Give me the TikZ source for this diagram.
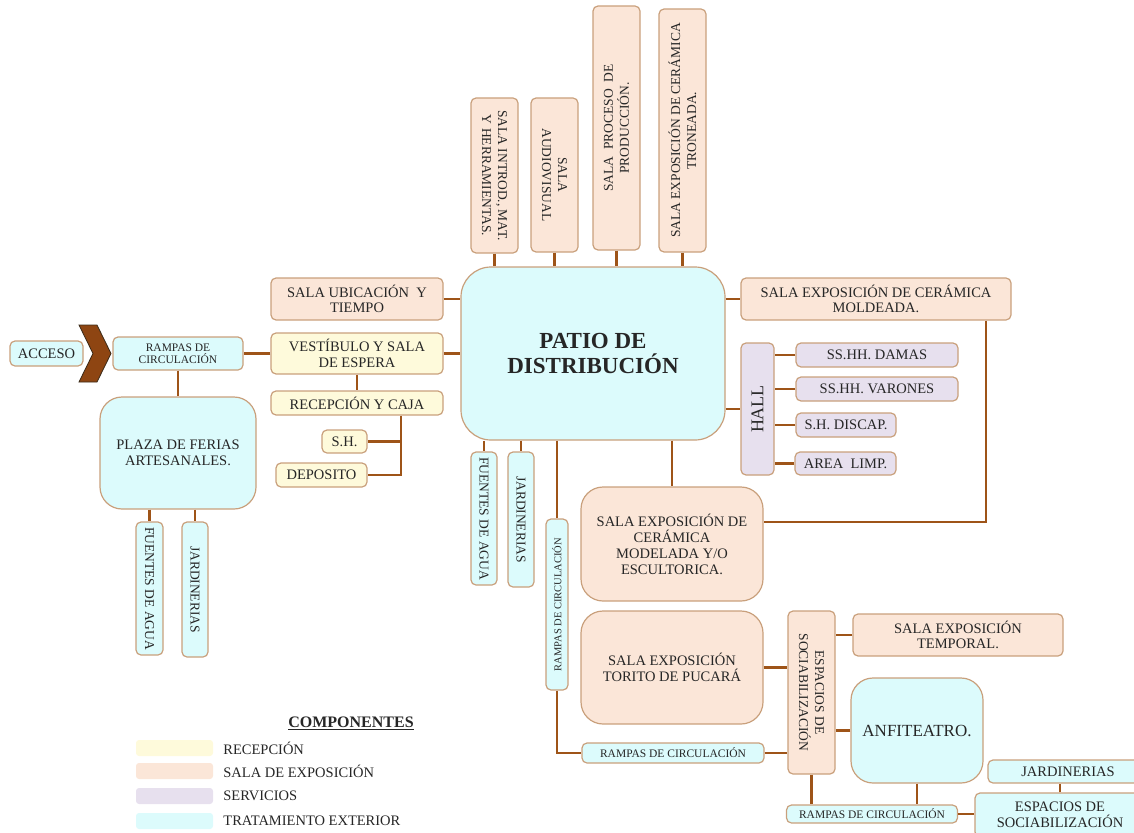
\documentclass[tikz,border=0pt]{standalone}
\usepackage{fontspec}
\setmainfont{Liberation Serif}
\usetikzlibrary{positioning}

\definecolor{recepfill}{HTML}{FEFADB}
\definecolor{salafill}{HTML}{FBE6D8}
\definecolor{servfill}{HTML}{E7E0EE}
\definecolor{extfill}{HTML}{DCFBFC}
\definecolor{brd}{HTML}{C9A07C}
\definecolor{linkc}{HTML}{9E5418}
\definecolor{chevfill}{HTML}{8E4512}
\definecolor{chevline}{HTML}{3A2A18}

\newcommand{\fsn}{\fontsize{14.5}{15.5}\selectfont}
\newcommand{\fsv}{\fontsize{13.5}{16}\selectfont}
\newcommand{\fsr}{\fontsize{11.5}{12.5}\selectfont}

\tikzset{
  box/.style={draw=brd, line width=1.2pt, rounded corners=5pt, align=center, inner sep=2pt, font=\fsn, text=black!85},
  recep/.style={box, fill=recepfill},
  sala/.style={box, fill=salafill},
  serv/.style={box, fill=servfill},
  ext/.style={box, fill=extfill},
  rampa/.style={ext, font=\fsr},
  vert/.style={font=\fsv},
  big/.style={rounded corners=22pt},
  link/.style={draw=linkc, line width=2.4pt},
  swatch/.style={fill=#1, rounded corners=3pt, minimum width=77pt, minimum height=16pt, inner sep=0pt},
  legtxt/.style={font=\fsn, text=black!85, inner sep=0pt},
}

\begin{document}
\begin{tikzpicture}[x=1pt, y=-1pt]
    \useasboundingbox (0,0) rectangle (1134,832);
    \clip (0,0) rectangle (1134,832);

    \node[ext, rounded corners=30pt, minimum width=264pt, minimum height=173pt, font=\fontsize{23}{25}\selectfont\bfseries] (patio) at (593,353.5) {PATIO DE\\DISTRIBUCIÓN};

    \node[sala, vert, rotate=-90, minimum width=155pt, minimum height=47pt] (intro) at (494.5,175.5) {SALA INTROD., MAT.\\Y HERRAMIENTAS.};
    \node[sala, vert, rotate=-90, minimum width=154pt, minimum height=47pt] (audio) at (554.5,175)   {SALA\\AUDIOVISUAL};
    \node[sala, vert, rotate=90,  minimum width=244pt, minimum height=47pt] (proceso) at (616.5,128) {SALA\ \ PROCESO\ \ DE\\PRODUCCIÓN.};
    \node[sala, vert, rotate=90,  minimum width=243pt, minimum height=47pt] (tronea) at (682.5,130.5) {SALA EXPOSICIÓN DE CERÁMICA\\TRONEADA.};

    \node[sala,  minimum width=172pt, minimum height=42pt] (ubic)  at (357,299)   {SALA UBICACIÓN\ \ Y\\TIEMPO};
    \node[recep, minimum width=172pt, minimum height=41pt] (vest)  at (357,353.5) {VESTÍBULO Y SALA\\DE ESPERA};
    \node[recep, minimum width=172pt, minimum height=24pt] (recep) at (357,403)   {RECEPCIÓN Y CAJA};
    \node[recep, minimum width=45pt,  minimum height=23pt] (sh)    at (344.5,441.5) {S.H.};
    \node[recep, minimum width=91pt,  minimum height=24pt] (dep)   at (321.5,475) {DEPOSITO};
    \coordinate (rj) at (401,475);

    \node[rampa, minimum width=130pt, minimum height=33pt] (rampasL) at (178,353.5) {RAMPAS DE\\CIRCULACIÓN};
    \node[ext,   minimum width=73pt,  minimum height=25pt] (acceso)  at (46.5,353.5) {ACCESO};
    \fill[chevfill, draw=chevline, line width=0.8pt] (79,325) -- (97,325) -- (111,353.5) -- (97,382) -- (79,382) -- (93,353.5) -- cycle;
    \node[ext, big, minimum width=156pt, minimum height=112pt] (plaza) at (178,453) {PLAZA DE FERIAS\\ARTESANALES.};
    \node[ext, vert, rotate=-90, minimum width=133pt, minimum height=27pt] (fuL)  at (149.5,588.5) {FUENTES DE AGUA};
    \node[ext, vert, rotate=-90, minimum width=135pt, minimum height=26pt] (jarL) at (195,589.5)   {JARDINERIAS};

    \node[ext, vert, rotate=-90, minimum width=133pt, minimum height=26pt] (fuP)  at (484,518.5) {FUENTES DE AGUA};
    \node[ext, vert, rotate=-90, minimum width=135pt, minimum height=26pt] (jarP) at (521,519.5) {JARDINERIAS};
    \node[rampa, rotate=90, minimum width=171pt, minimum height=22pt, font=\fontsize{10.5}{12}\selectfont] (rampasV) at (557,604.5) {RAMPAS DE CIRCULACIÓN};

    \node[sala, minimum width=270pt, minimum height=42pt] (moldeada) at (876,299) {SALA EXPOSICIÓN DE CERÁMICA\\MOLDEADA.};
    \coordinate (mr) at (986,522);
    \node[serv, rotate=90, minimum width=132pt, minimum height=33pt, font=\fontsize{18}{20}\selectfont] (hall) at (757.5,409) {HALL};
    \node[serv, minimum width=162pt, minimum height=24pt] (damas)   at (877,355)   {SS.HH. DAMAS};
    \node[serv, minimum width=162pt, minimum height=24pt] (varones) at (877,389)   {SS.HH. VARONES};
    \node[serv, minimum width=100pt, minimum height=24pt] (discap)  at (846,425)   {S.H. DISCAP.};
    \node[serv, minimum width=101pt, minimum height=23pt] (limp)    at (845.5,463.5) {AREA\ \ LIMP.};

    \node[sala, big, minimum width=182pt, minimum height=114pt, font=\fontsize{14.5}{16}\selectfont] (modelada) at (672,544) {SALA EXPOSICIÓN DE\\CERÁMICA\\MODELADA Y/O\\ESCULTORICA.};
    \node[sala, big, minimum width=182pt, minimum height=113pt] (torito) at (672,667.5) {SALA EXPOSICIÓN\\TORITO DE PUCARÁ};
    \node[sala, vert, rotate=-90, minimum width=163pt, minimum height=47pt] (espacios) at (811.5,692.5) {ESPACIOS DE\\SOCIABILIZACIÓN};
    \node[sala, minimum width=210pt, minimum height=42pt] (temporal) at (958,635) {SALA EXPOSICIÓN\\TEMPORAL.};
    \node[ext, big, minimum width=132pt, minimum height=105pt, font=\fontsize{17}{19}\selectfont] (anfi) at (917,730.5) {ANFITEATRO.};
    \node[rampa, minimum width=182pt, minimum height=20pt] (rampasM) at (673,753) {RAMPAS DE CIRCULACIÓN};
    \node[rampa, minimum width=171pt, minimum height=18pt] (rampasB) at (872,814) {RAMPAS DE CIRCULACIÓN};
    \node[ext, minimum width=160pt, minimum height=23pt] (jarB) at (1068,771.5) {JARDINERIAS};
    \node[ext, minimum width=170pt, minimum height=44pt, font=\fontsize{14.5}{16}\selectfont] (espB) at (1060,815) {ESPACIOS DE\\SOCIABILIZACIÓN};

    \draw[link] (intro) -- (intro |- patio.north);
    \draw[link] (audio) -- (audio |- patio.north);
    \draw[link] (proceso) -- (proceso |- patio.north);
    \draw[link] (tronea) -- (tronea |- patio.north);
    \draw[link] (ubic) -- (ubic -| patio.west);
    \draw[link] (vest) -- (vest -| patio.west);
    \draw[link] (vest) -- (rampasL);
    \draw[link] (vest) -- (recep);
    \draw[link] (rampasL) -- (plaza);
    \draw[link] (recep.south -| rj) |- (dep);
    \draw[link] (rj |- sh) -- (sh);
    \draw[link] (plaza.south -| fuL) -- (fuL);
    \draw[link] (plaza.south -| jarL) -- (jarL);
    \draw[link] (patio.south -| fuP) -- (fuP);
    \draw[link] (patio.south -| jarP) -- (jarP);
    \draw[link] (patio.south -| rampasV) -- (rampasV);
    \draw[link] (rampasV) |- (rampasM);
    \draw[link] (patio.south -| modelada) -- (modelada);
    \draw[link] (patio.east |- moldeada) -- (moldeada);
    \draw[link] (moldeada.south -| mr) |- (modelada.east |- mr);
    \draw[link] (patio.east |- hall) -- (hall);
    \draw[link] (damas) -- (damas -| hall.south);
    \draw[link] (varones) -- (varones -| hall.south);
    \draw[link] (discap) -- (discap -| hall.south);
    \draw[link] (limp) -- (limp -| hall.south);
    \draw[link] (torito) -- (torito -| espacios.south);
    \draw[link] (rampasM) -- (rampasM -| espacios.south);
    \draw[link] (temporal) -- (temporal -| espacios.north);
    \draw[link] (anfi) -- (anfi -| espacios.north);
    \draw[link] (espacios) -- (espacios |- rampasB.north);
    \draw[link] (anfi) -- (anfi |- rampasB.north);
    \draw[link] (rampasB) -- (rampasB -| espB.west);
    \draw[link] (espB) -- (espB |- jarB.south);

    \node[font=\fontsize{16}{18}\selectfont\bfseries, text=black!85] (comp) at (351,723) {\underline{COMPONENTES}};
    \node[swatch=recepfill] (sw1) at (174.5,748) {};
    \node[swatch=salafill]  (sw2) at (174.5,771) {};
    \node[swatch=servfill]  (sw3) at (174.5,796) {};
    \node[swatch=extfill]   (sw4) at (174.5,821) {};
    \node[legtxt, right=10pt of sw1] (lb1) {RECEPCIÓN};
    \node[legtxt, right=10pt of sw2] (lb2) {SALA DE EXPOSICIÓN};
    \node[legtxt, right=10pt of sw3] (lb3) {SERVICIOS};
    \node[legtxt, right=10pt of sw4] (lb4) {TRATAMIENTO EXTERIOR};
\end{tikzpicture}
\end{document}
